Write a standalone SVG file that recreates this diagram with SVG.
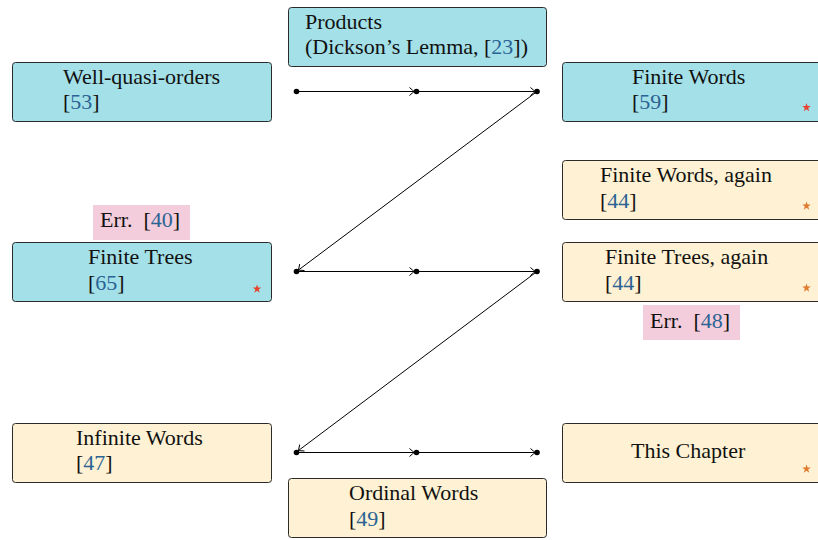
<svg xmlns="http://www.w3.org/2000/svg" width="818" height="540" viewBox="0 0 818 540">
<defs>
<marker id="to" markerWidth="10" markerHeight="10" viewBox="-6 -5 8 10" refX="0" refY="0" orient="auto" markerUnits="userSpaceOnUse">
<path d="M -4.5 -4 Q -1 -1 0 0 Q -1 1 -4.5 4" fill="none" stroke="#000" stroke-width="1"/>
</marker>
<path id="star" d="M0,-4.5 L1.06,-1.46 L4.28,-1.39 L1.71,0.56 L2.65,3.64 L0,1.8 L-2.65,3.64 L-1.71,0.56 L-4.28,-1.39 L-1.06,-1.46 Z"/>
</defs>
<style>
.cy{fill:#a4e0e8;stroke:#2a2a2a;stroke-width:1}
.ye{fill:#fff1d3;stroke:#2a2a2a;stroke-width:1}
.pk{fill:#f3cddb}
text{font-family:"Liberation Serif","DejaVu Serif",serif;font-size:22px;fill:#111}
.c{fill:#2a6394}
.sr{fill:#e8432e}
.so{fill:#e07a2e}
.ln{stroke:#000;stroke-width:1;fill:none;marker-end:url(#to)}
.dot{fill:#000}
</style>
<g id="wqo">
<rect class="cy" x="12.5" y="62.5" width="259" height="59" rx="3"/>
<text x="63" y="84">Well-quasi-orders</text>
<text x="63" y="109">[<tspan class="c">53</tspan>]</text>
</g>
<g id="products">
<rect class="cy" x="288.5" y="7.5" width="258" height="59" rx="3"/>
<text x="305" y="29">Products</text>
<text x="305" y="54">(Dickson’s Lemma, [<tspan class="c">23</tspan>])</text>
</g>
<g id="finitewords">
<rect class="cy" x="562.5" y="62.5" width="262" height="59" rx="3"/>
<text x="632" y="84">Finite Words</text>
<text x="632" y="109">[<tspan class="c">59</tspan>]</text>
<use href="#star" class="sr" x="806.5" y="107.5"/>
</g>
<g id="finitewordsagain">
<rect class="ye" x="562.5" y="160.5" width="262" height="59" rx="3"/>
<text x="600" y="182">Finite Words, again</text>
<text x="600" y="208">[<tspan class="c">44</tspan>]</text>
<use href="#star" class="so" x="806.5" y="206"/>
</g>
<g id="finitetreesagain">
<rect class="ye" x="562.5" y="242.5" width="262" height="59" rx="3"/>
<text x="605" y="264">Finite Trees, again</text>
<text x="605" y="290">[<tspan class="c">44</tspan>]</text>
<use href="#star" class="so" x="806.5" y="288"/>
</g>
<g id="err48">
<rect class="pk" x="643" y="305" width="97" height="35"/>
<text x="650" y="328">Err.<tspan dx="11">[</tspan><tspan class="c">48</tspan>]</text>
</g>
<g id="err40">
<rect class="pk" x="93" y="205" width="97" height="35"/>
<text x="100" y="227">Err.<tspan dx="11">[</tspan><tspan class="c">40</tspan>]</text>
</g>
<g id="finitetrees">
<rect class="cy" x="12.5" y="242.5" width="259" height="59" rx="3"/>
<text x="88" y="264">Finite Trees</text>
<text x="88" y="290">[<tspan class="c">65</tspan>]</text>
<use href="#star" class="sr" x="257" y="289"/>
</g>
<g id="infinitewords">
<rect class="ye" x="12.5" y="423.5" width="259" height="59" rx="3"/>
<text x="76" y="445">Infinite Words</text>
<text x="76" y="470">[<tspan class="c">47</tspan>]</text>
</g>
<g id="ordinalwords">
<rect class="ye" x="288.5" y="478.5" width="258" height="59" rx="3"/>
<text x="349" y="500">Ordinal Words</text>
<text x="349" y="526">[<tspan class="c">49</tspan>]</text>
</g>
<g id="thischapter">
<rect class="ye" x="562.5" y="423.5" width="262" height="59" rx="3"/>
<text x="631" y="458">This Chapter</text>
<use href="#star" class="so" x="806.5" y="469"/>
</g>
<g id="connectors">
<line class="ln" x1="296.5" y1="91.5" x2="414" y2="91.5"/>
<line class="ln" x1="416.5" y1="91.5" x2="535" y2="91.5"/>
<line class="ln" x1="537" y1="91.5" x2="298.5" y2="270"/>
<line class="ln" x1="296.5" y1="271.5" x2="414" y2="271.5"/>
<line class="ln" x1="416.5" y1="271.5" x2="535" y2="271.5"/>
<line class="ln" x1="537" y1="271.5" x2="298.5" y2="450.5"/>
<line class="ln" x1="296.5" y1="452.5" x2="414" y2="452.5"/>
<line class="ln" x1="416.5" y1="452.5" x2="535" y2="452.5"/>
<circle class="dot" cx="296.5" cy="91.5" r="2.8"/>
<circle class="dot" cx="416.5" cy="91.5" r="2.8"/>
<circle class="dot" cx="537" cy="91.5" r="2.8"/>
<circle class="dot" cx="296.5" cy="271.5" r="2.8"/>
<circle class="dot" cx="416.5" cy="271.5" r="2.8"/>
<circle class="dot" cx="537" cy="271.5" r="2.8"/>
<circle class="dot" cx="296.5" cy="452.5" r="2.8"/>
<circle class="dot" cx="416.5" cy="452.5" r="2.8"/>
<circle class="dot" cx="537" cy="452.5" r="2.8"/>
</g>
</svg>
